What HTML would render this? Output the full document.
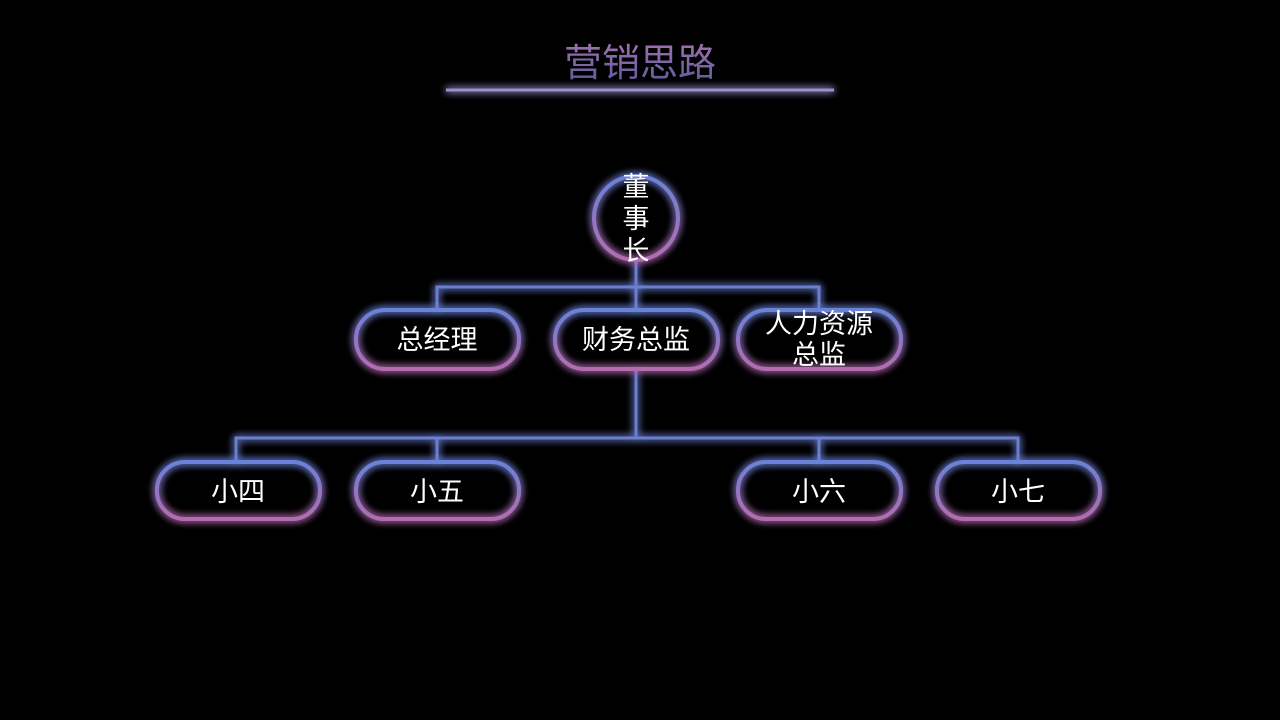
<!DOCTYPE html>
<html><head><meta charset="utf-8"><style>
html,body{margin:0;padding:0;background:#000;width:1280px;height:720px;overflow:hidden}
text{font-family:"Liberation Sans","Noto Sans CJK SC",sans-serif;fill:#fff}
</style></head><body>
<svg width="1280" height="720" viewBox="0 0 1280 720" xmlns="http://www.w3.org/2000/svg">
<defs>
<linearGradient id="g" x1="0" y1="0" x2="0" y2="1">
<stop offset="0" stop-color="#6a82d8"/><stop offset="1" stop-color="#b46cb0"/>
</linearGradient>
<linearGradient id="gt" x1="0" y1="0" x2="0" y2="1">
<stop offset="0" stop-color="#a070b0"/><stop offset="1" stop-color="#5a5a9a"/>
</linearGradient>
<filter id="glow" filterUnits="userSpaceOnUse" x="0" y="0" width="1280" height="720">
<feGaussianBlur in="SourceGraphic" stdDeviation="4" result="b"/>
<feMerge><feMergeNode in="b"/><feMergeNode in="b"/><feMergeNode in="SourceGraphic"/></feMerge>
</filter>
</defs>
<text x="640" y="76" text-anchor="middle" font-size="38" style="fill:url(#gt)">营销思路</text>
<rect x="446" y="88.5" width="388" height="3" fill="#9a90d0" filter="url(#glow)"/>
<g stroke="#6a7fd0" stroke-width="3" fill="none" filter="url(#glow)">
<path d="M636 260V310M437 310V287H819V310M636 370V438M236 462V438H1018V462M437 438V462M819 438V462"/>
</g>
<g stroke="url(#g)" stroke-width="4" fill="none" filter="url(#glow)">
<circle cx="636" cy="218" r="42"/>
<rect x="356" y="310" width="163" height="59" rx="29"/>
<rect x="555" y="310" width="163" height="59" rx="29"/>
<rect x="738" y="310" width="163" height="59" rx="29"/>
<rect x="157" y="462" width="163" height="57" rx="28"/>
<rect x="356" y="462" width="163" height="57" rx="28"/>
<rect x="738" y="462" width="163" height="57" rx="28"/>
<rect x="937" y="462" width="163" height="57" rx="28"/>
</g>
<g font-size="27" text-anchor="middle">
<text x="636" y="196">董</text>
<text x="636" y="228">事</text>
<text x="636" y="260">长</text>
<text x="437" y="349">总经理</text>
<text x="636" y="349">财务总监</text>
<text x="819" y="333">人力资源</text>
<text x="819" y="364">总监</text>
<text x="238" y="501">小四</text>
<text x="437" y="501">小五</text>
<text x="819" y="501">小六</text>
<text x="1018" y="501">小七</text>
</g>
</svg>
</body></html>
